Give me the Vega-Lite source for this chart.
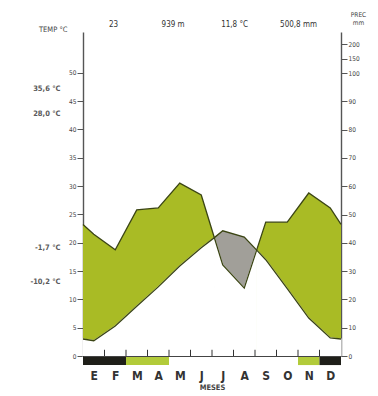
{
  "$schema": "https://vega.github.io/schema/vega-lite/v6.json",
  "width": 258,
  "height": 335,
  "autosize": {"type": "none"},
  "padding": {"left": 83, "top": 30, "right": 37, "bottom": 31},
  "background": "white",
  "config": {
    "view": {"stroke": null},
    "font": "Liberation Sans Narrow, DejaVu Sans Condensed, Liberation Sans, sans-serif",
    "axis": {"domainColor": "#555", "domainWidth": 1.4, "tickColor": "#555", "labelColor": "#444", "titleColor": "#444", "grid": false, "labelOverlap": false}
  },
  "title": {
    "text": "23\u00a0\u00a0\u00a0\u00a0\u00a0\u00a0\u00a0\u00a0\u00a0\u00a0\u00a0\u00a0\u00a0\u00a0\u00a0\u00a0\u00a0\u00a0\u00a0939 m\u00a0\u00a0\u00a0\u00a0\u00a0\u00a0\u00a0\u00a0\u00a0\u00a0\u00a0\u00a0\u00a0\u00a0\u00a0\u00a011,8 °C\u00a0\u00a0\u00a0\u00a0\u00a0\u00a0\u00a0\u00a0\u00a0\u00a0\u00a0\u00a0\u00a0\u00a0500,8 mm",
    "anchor": "start",
    "frame": "group",
    "dx": 26,
    "dy": 22,
    "offset": 4,
    "fontSize": 8,
    "fontWeight": "normal",
    "color": "#333"
  },
  "datasets": {
    "clima": [
      {"mes": 0.5, "temp": 3.0, "prec": 46.5},
      {"mes": 1, "temp": 2.7, "prec": 43.0},
      {"mes": 2, "temp": 5.3, "prec": 37.5},
      {"mes": 3, "temp": 8.8, "prec": 51.6},
      {"mes": 4, "temp": 12.2, "prec": 52.3},
      {"mes": 5, "temp": 15.9, "prec": 61.1},
      {"mes": 6, "temp": 19.1, "prec": 56.9},
      {"mes": 6.61, "temp": 20.9, "prec": 41.8},
      {"mes": 7, "temp": 22.1, "prec": 32.2},
      {"mes": 8, "temp": 21.0, "prec": 24.0},
      {"mes": 8.58, "temp": 18.7, "prec": 37.5},
      {"mes": 9, "temp": 17.0, "prec": 47.3},
      {"mes": 10, "temp": 11.9, "prec": 47.3},
      {"mes": 11, "temp": 6.7, "prec": 57.6},
      {"mes": 12, "temp": 3.2, "prec": 52.3},
      {"mes": 12.5, "temp": 3.0, "prec": 46.5}
    ],
    "heladas": [
      {"desde": 0.5, "hasta": 2.5, "tipo": "segura"},
      {"desde": 2.5, "hasta": 4.5, "tipo": "probable"},
      {"desde": 10.5, "hasta": 11.5, "tipo": "probable"},
      {"desde": 11.5, "hasta": 12.5, "tipo": "segura"}
    ],
    "limites": [
      {"limite": 1.5}, {"limite": 2.5}, {"limite": 3.5}, {"limite": 4.5}, {"limite": 5.5}, {"limite": 6.5},
      {"limite": 7.5}, {"limite": 8.5}, {"limite": 9.5}, {"limite": 10.5}, {"limite": 11.5}
    ]
  },
  "resolve": {"scale": {"x": "independent", "y": "independent"}, "axis": {"x": "independent", "y": "independent"}},
  "layer": [
    {
      "data": {"name": "clima"},
      "transform": [{"filter": {"field": "mes", "range": [0.5, 6.61]}}],
      "mark": {"type": "area", "color": "#a9bb25"},
      "encoding": {
        "x": {"field": "mes", "type": "quantitative", "scale": {"domain": [0.5, 12.5], "nice": false, "zero": false}, "axis": null},
        "y": {"field": "prec", "type": "quantitative", "scale": {"domain": [0, 100, 200, 260], "range": [326, 43, 14, 2], "nice": false, "zero": false}, "axis": null},
        "y2": {"datum": 0}
      }
    },
    {
      "data": {"name": "clima"},
      "transform": [{"filter": {"field": "mes", "range": [0.5, 6.61]}}],
      "mark": {"type": "area", "color": "white", "stroke": "white", "strokeWidth": 1.2},
      "encoding": {
        "x": {"field": "mes", "type": "quantitative", "scale": {"domain": [0.5, 12.5], "nice": false, "zero": false}, "axis": null},
        "y": {"field": "temp", "type": "quantitative", "scale": {"domain": [0, 57.2], "range": [326, 2], "nice": false, "zero": false},
          "axis": {"orient": "left", "offset": 21, "values": [47.2, 42.8, 19.1, 13.1],
            "labelExpr": "datum.value > 45 ? '35,6 °C' : datum.value > 40 ? '28,0 °C' : datum.value > 15 ? '-1,7 °C' : '-10,2 °C'",
            "domain": false, "ticks": false, "labelPadding": 2, "labelFontSize": 7.5, "labelFontWeight": "bold", "labelColor": "#5a5a5a", "title": null}},
        "y2": {"datum": 0}
      }
    },
    {
      "data": {"name": "clima"},
      "transform": [{"filter": {"field": "mes", "range": [6.61, 8.58]}}],
      "mark": {"type": "area", "color": "#a19f99"},
      "encoding": {
        "x": {"field": "mes", "type": "quantitative", "scale": {"domain": [0.5, 12.5], "nice": false, "zero": false}, "axis": null},
        "y": {"field": "temp", "type": "quantitative", "scale": {"domain": [0, 57.2], "range": [326, 2], "nice": false, "zero": false}, "axis": null},
        "y2": {"datum": 0}
      }
    },
    {
      "data": {"name": "clima"},
      "transform": [{"filter": {"field": "mes", "range": [6.61, 8.58]}}],
      "mark": {"type": "area", "color": "white", "stroke": "white", "strokeWidth": 1.2},
      "encoding": {
        "x": {"field": "mes", "type": "quantitative", "scale": {"domain": [0.5, 12.5], "nice": false, "zero": false}, "axis": null},
        "y": {"field": "prec", "type": "quantitative", "scale": {"domain": [0, 100, 200, 260], "range": [326, 43, 14, 2], "nice": false, "zero": false}, "axis": null},
        "y2": {"datum": 0}
      }
    },
    {
      "data": {"name": "clima"},
      "transform": [{"filter": {"field": "mes", "range": [8.58, 12.5]}}],
      "mark": {"type": "area", "color": "#a9bb25"},
      "encoding": {
        "x": {"field": "mes", "type": "quantitative", "scale": {"domain": [0.5, 12.5], "nice": false, "zero": false}, "axis": null},
        "y": {"field": "prec", "type": "quantitative", "scale": {"domain": [0, 100, 200, 260], "range": [326, 43, 14, 2], "nice": false, "zero": false}, "axis": null},
        "y2": {"datum": 0}
      }
    },
    {
      "data": {"name": "clima"},
      "transform": [{"filter": {"field": "mes", "range": [8.58, 12.5]}}],
      "mark": {"type": "area", "color": "white", "stroke": "white", "strokeWidth": 1.2},
      "encoding": {
        "x": {"field": "mes", "type": "quantitative", "scale": {"domain": [0.5, 12.5], "nice": false, "zero": false}, "axis": null},
        "y": {"field": "temp", "type": "quantitative", "scale": {"domain": [0, 57.2], "range": [326, 2], "nice": false, "zero": false}, "axis": null},
        "y2": {"datum": 0}
      }
    },
    {
      "data": {"name": "heladas"},
      "mark": {"type": "rect"},
      "encoding": {
        "x": {"field": "desde", "type": "quantitative", "scale": {"domain": [0.5, 12.5], "nice": false, "zero": false}, "axis": null},
        "x2": {"field": "hasta"},
        "y": {"datum": 0, "type": "quantitative", "scale": {"domain": [0, 57.2], "range": [326, 2], "nice": false, "zero": false}, "axis": null},
        "y2": {"datum": -1.6},
        "color": {"field": "tipo", "type": "nominal", "scale": {"domain": ["segura", "probable"], "range": ["#1f1f19", "#b2cb3a"]}, "legend": null}
      }
    },
    {
      "data": {"name": "limites"},
      "mark": {"type": "rule", "color": "#333", "strokeWidth": 1},
      "encoding": {
        "x": {"field": "limite", "type": "quantitative", "scale": {"domain": [0.5, 12.5], "nice": false, "zero": false}, "axis": null},
        "y": {"datum": 0, "type": "quantitative", "scale": {"domain": [0, 57.2], "range": [326, 2], "nice": false, "zero": false}, "axis": null},
        "y2": {"datum": 1.1}
      }
    },
    {
      "data": {"name": "clima"},
      "mark": {"type": "line", "color": "#3b4514", "strokeWidth": 1.3},
      "encoding": {
        "x": {"field": "mes", "type": "quantitative", "scale": {"domain": [0.5, 12.5], "nice": false, "zero": false},
          "axis": {"values": [1, 2, 3, 4, 5, 6, 7, 8, 9, 10, 11, 12],
            "labelExpr": "['E','F','M','A','M','J','J','A','S','O','N','D'][datum.value - 1]",
            "offset": -9, "domain": true, "domainColor": "#444", "domainWidth": 1.2, "zindex": 1, "ticks": false, "labelPadding": 14, "labelOverlap": false,
            "labelFontSize": 12, "labelFontWeight": "bold", "labelColor": "#333",
            "title": "MESES", "titleFontSize": 7.5, "titleFontWeight": "bold", "titlePadding": 2}},
        "y": {"field": "temp", "type": "quantitative", "scale": {"domain": [0, 57.2], "range": [326, 2], "nice": false, "zero": false},
          "axis": {"orient": "left", "values": [0, 5, 10, 15, 20, 25, 30, 35, 40, 45, 50], "tickSize": 6, "labelPadding": 1, "labelFontSize": 6.5,
            "title": "TEMP °C", "titleAngle": 0, "titleAlign": "right", "titleBaseline": "alphabetic", "titleX": -16, "titleY": 1, "titleFontSize": 7.5, "titleFontWeight": "normal"}}
      }
    },
    {
      "data": {"name": "clima"},
      "mark": {"type": "line", "color": "#3b4514", "strokeWidth": 1.3},
      "encoding": {
        "x": {"field": "mes", "type": "quantitative", "scale": {"domain": [0.5, 12.5], "nice": false, "zero": false}, "axis": null},
        "y": {"field": "prec", "type": "quantitative", "scale": {"domain": [0, 100, 200, 260], "range": [326, 43, 14, 2], "nice": false, "zero": false},
          "axis": {"orient": "right", "values": [0, 10, 20, 30, 40, 50, 60, 70, 80, 90, 100, 150, 200], "tickSize": 6, "labelPadding": 1, "labelFontSize": 6.5,
            "title": ["PREC", "mm"], "titleAngle": 0, "titleAlign": "center", "titleBaseline": "alphabetic", "titleX": 17, "titleY": -14, "titleFontSize": 6.5, "titleFontWeight": "normal", "titleLineHeight": 8}}
      }
    }
  ]
}
